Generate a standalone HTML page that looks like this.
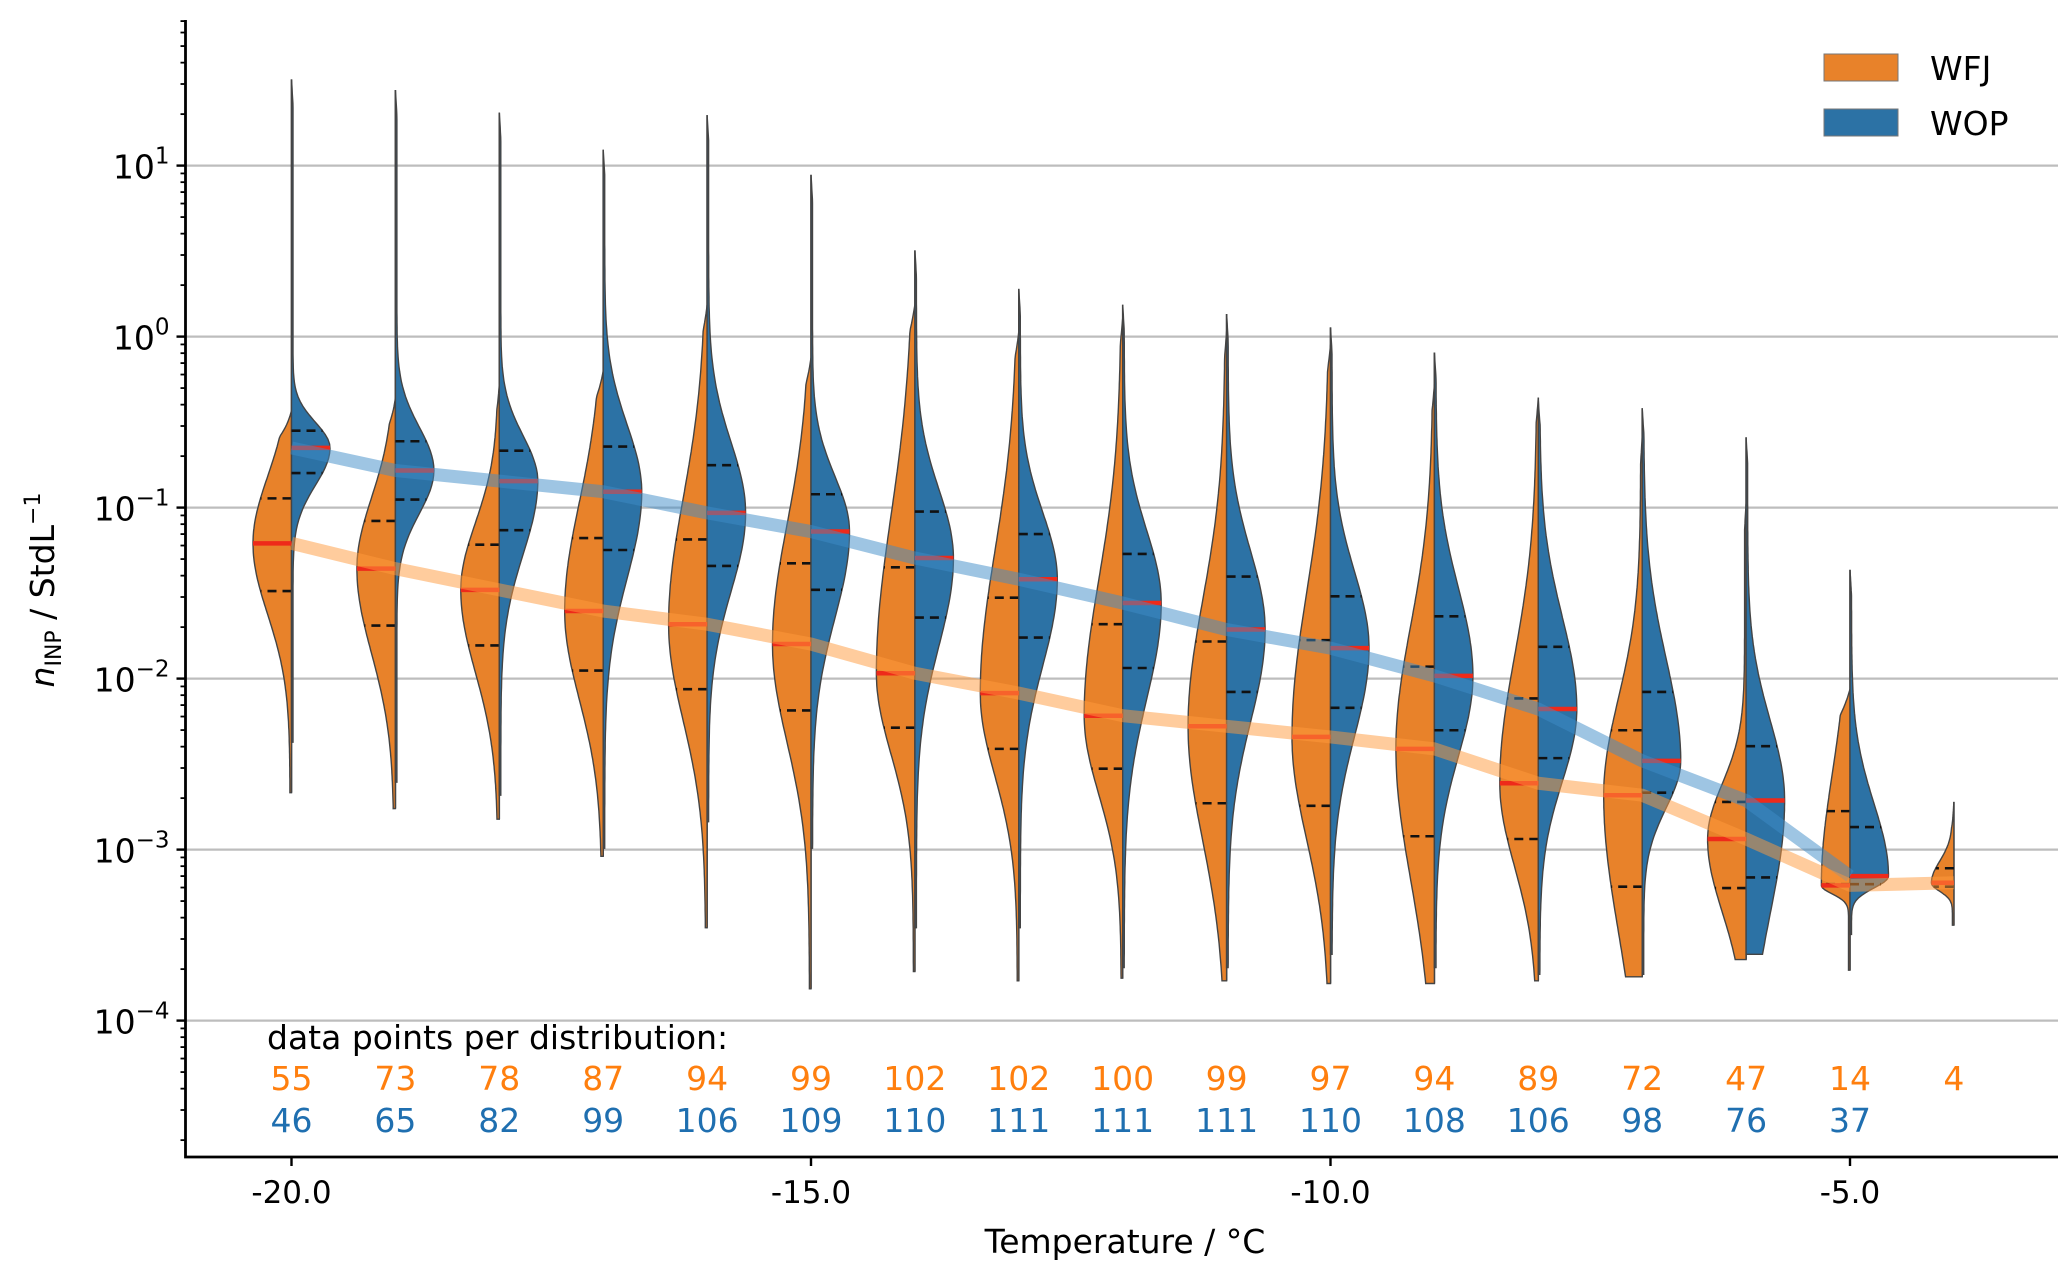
<!DOCTYPE html>
<html><head><meta charset="utf-8"><style>
html,body{margin:0;padding:0;background:#fff;}
svg{display:block;font-family:"DejaVu Sans","Liberation Sans",sans-serif;}
</style></head><body>
<svg id="chart" width="2067" height="1281" viewBox="0 0 2067 1281" xmlns="http://www.w3.org/2000/svg">
<rect x="0" y="0" width="2067" height="1281" fill="#fff"/>
<g id="grid"></g>
<g id="violins"></g>
<g id="lines"></g>
<g id="axes"></g>
<g id="legend">
<rect x="1824" y="54" width="74" height="27" fill="#e8822a" stroke="#777" stroke-width="1"/>
<text x="1930" y="80" font-size="33">WFJ</text>
<rect x="1824" y="109" width="74" height="27" fill="#2c72a5" stroke="#777" stroke-width="1"/>
<text x="1930" y="135" font-size="33">WOP</text>
</g>
</svg>
<script>
const temps = [-20,-19,-18,-17,-16,-15,-14,-13,-12,-11,-10,-9,-8,-7,-6,-5,-4];
const wfjCount = [55,73,78,87,94,99,102,102,100,99,97,94,89,72,47,14,4];
const wopCount = [46,65,82,99,106,109,110,111,111,111,110,108,106,98,76,37];
// log10 values
const wfjMedian = [-1.209,-1.357,-1.481,-1.605,-1.682,-1.798,-1.969,-2.085,-2.217,-2.279,-2.341,-2.411,-2.612,-2.682,-2.938,-3.209,-3.194];
const wfjQ3 = [-0.946,-1.078,-1.217,-1.178,-1.186,-1.326,-1.349,-1.527,-1.682,-1.783,-1.775,-1.930,-2.116,-2.302,-2.721,-2.775,-3.109];
const wfjQ1 = [-1.488,-1.690,-1.806,-1.953,-2.062,-2.186,-2.287,-2.411,-2.527,-2.729,-2.744,-2.922,-2.938,-3.217,-3.225,-3.202,-3.217];
const wfjMax = [-0.434,-0.357,-0.279,-0.202,0.186,-0.124,0.186,0.031,0.109,0.031,-0.047,-0.279,-0.357,-0.589,-0.977,-2.062,-2.721];
const wfjMin = [-2.667,-2.760,-2.822,-3.039,-3.457,-3.814,-3.713,-3.767,-3.752,-3.767,-3.783,-3.783,-3.767,-3.744,-3.643,-3.705,-3.442];
const wopMedian = [-0.651,-0.783,-0.845,-0.907,-1.031,-1.140,-1.295,-1.419,-1.558,-1.713,-1.822,-1.984,-2.178,-2.481,-2.713,-3.155];
const wopQ3 = [-0.550,-0.612,-0.667,-0.643,-0.752,-0.922,-1.023,-1.155,-1.271,-1.403,-1.519,-1.636,-1.814,-2.078,-2.395,-2.868];
const wopQ1 = [-0.798,-0.953,-1.132,-1.248,-1.341,-1.481,-1.643,-1.760,-1.938,-2.078,-2.171,-2.302,-2.465,-2.667,-3.163,-3.202];
const wopMax = [1.504,1.442,1.310,1.093,1.295,0.946,0.504,0.279,0.186,0.132,0.054,-0.093,-0.372,-0.419,-0.589,-1.364];
const wopMin = [-2.372,-2.605,-2.682,-2.992,-2.837,-2.992,-3.457,-3.457,-3.690,-3.690,-3.612,-3.690,-3.729,-3.729,-3.612,-3.496];
const xTicks = [-20,-15,-10,-5];
const xTickLabels = ["-20.0","-15.0","-10.0","-5.0"];
const yDecades = [1,0,-1,-2,-3,-4];

const NS="http://www.w3.org/2000/svg";
function X(t){return 291.5+(t+20)*103.9;}
function Y(l){return 165.6+(1-l)*171;}
const L=185.5,R=2058,T=20,B=1157;
function mk(tag,attrs,parent){const e=document.createElementNS(NS,tag);for(const k in attrs)e.setAttribute(k,attrs[k]);parent.appendChild(e);return e;}
const grid=document.getElementById('grid'),axes=document.getElementById('axes'),vg=document.getElementById('violins'),lg=document.getElementById('lines');

yDecades.forEach(d=>{
  const g=mk('line',{x1:L,x2:R,y1:Y(d),y2:Y(d),stroke:'#bdbdbd','stroke-width':2.2},grid);
  
  
});

function trend(meds,color,name){
  const pts=meds.map((m,i)=>X(temps[i])+','+Y(m)).join(' ');
  const p=mk('polyline',{points:pts,fill:'none',stroke:color,'stroke-width':13,'stroke-opacity':0.5,'stroke-linejoin':'round'},lg);
  
  
}

const medianMarks=[];
function half(i,side,med,q1,q3,lo,hi,n,fill,name){
  const cx=X(temps[i]);
  const W=37*Math.min(1,0.5+n/60);
  const su=Math.max((q3-med)/0.674,0.05), sl=Math.max((med-q1)/0.674,0.05);
  function wAt(l){const z=l>=med?(l-med)/su:(med-l)/sl;return W*Math.exp(-0.5*z*z)+1.5;}
  const pts=[];const N=140;
  for(let k=0;k<=N;k++){
    const l=hi-(hi-lo)*k/N;
    let w=wAt(l);
    const dt=hi-l;
    if(dt<0.15) w*=Math.max(dt/0.15,0);
    pts.push([cx+side*w,Y(l)]);
  }
  let d='M'+cx+','+Y(hi)+' '+pts.map(p=>'L'+p[0].toFixed(1)+','+p[1].toFixed(1)).join(' ')+' L'+cx+','+Y(lo)+' Z';
  const p=mk('path',{d:d,fill:fill,stroke:'#444','stroke-width':1.4},vg);
  
  
  [q1,q3].forEach(q=>{
    const w=wAt(q);
    const ql=mk('line',{x1:cx,x2:cx+side*w,y1:Y(q),y2:Y(q),stroke:'#111','stroke-width':2.6,'stroke-dasharray':'9,6'},vg);
    
    
  });
  medianMarks.push([cx,cx+side*wAt(med),Y(med)]);
}

temps.forEach((t,i)=>{
  const cx=X(t);
  const top=Math.max(wfjMax[i], i<wopMax.length?wopMax[i]:-99);
  const bot=Math.min(wfjMin[i], i<wopMin.length?wopMin[i]:99);
  const c=mk('line',{x1:cx,x2:cx,y1:Y(top),y2:Y(bot),stroke:'#444','stroke-width':1.6},vg);
  
  
  half(i,-1,wfjMedian[i],wfjQ1[i],wfjQ3[i],wfjMin[i],wfjMax[i],wfjCount[i],'#e8822a','violin-wfj');
  if(i<wopMedian.length) half(i,1,wopMedian[i],wopQ1[i],wopQ3[i],wopMin[i],wopMax[i],wopCount[i],'#2c72a5','violin-wop');
});
medianMarks.forEach(m=>{
  const ml=mk('line',{x1:m[0],x2:m[1],y1:m[2],y2:m[2],stroke:'#ee2a1a','stroke-width':4.5},vg);
  
  
});
trend(wopMedian,'#3d8cc8','median-trend-wop');
trend(wfjMedian,'#ff9a3c','median-trend-wfj');

const ax=mk('path',{d:`M${L},${T} L${L},${B} L${R},${B}`,fill:'none',stroke:'#000','stroke-width':2.8},axes);


for(let d=-5; d<=1; d++){
  for(let m=1;m<=9;m++){
    const l=d+Math.log10(m);const y=Y(l);
    if(y<T||y>B) continue;
    const tk=mk('line',{x1:L-(m===1?9:5),x2:L,y1:y,y2:y,stroke:'#000','stroke-width':m===1?2.4:1.8},axes);
    
    
  }
}
yDecades.forEach(d=>{
  const t=mk('text',{x:L-16,y:Y(d)+13,'text-anchor':'end','font-size':33},axes);
  
  
  t.innerHTML='10<tspan dy="-15" font-size="23">'+(d<0?'\u2212'+(-d):d)+'</tspan>';
});
xTicks.forEach((v,i)=>{
  const tk=mk('line',{x1:X(v),x2:X(v),y1:B,y2:B+9,stroke:'#000','stroke-width':2.4},axes);
  
  
  const t=mk('text',{x:X(v),y:B+46,'text-anchor':'middle','font-size':31},axes);
  
  
  t.textContent=xTickLabels[i];
});
const xl=mk('text',{x:1125,y:1253,'text-anchor':'middle','font-size':33},axes);


xl.textContent='Temperature / °C';
const yl=mk('text',{x:0,y:0,'text-anchor':'middle','font-size':33,transform:'translate(54,590) rotate(-90)'},axes);


yl.innerHTML='<tspan font-style="italic">n</tspan><tspan dy="7" font-size="22">INP</tspan><tspan dy="-7"> / StdL</tspan><tspan dy="-14" font-size="22">\u22121</tspan>';

const hdr=mk('text',{x:267,y:1049,'font-size':33},axes);


hdr.textContent='data points per distribution:';
wfjCount.forEach((n,i)=>{
  const t=mk('text',{x:X(temps[i]),y:1090,'text-anchor':'middle','font-size':33,fill:'#ff7f0e'},axes);
  
  
  t.textContent=n;
});
wopCount.forEach((n,i)=>{
  const t=mk('text',{x:X(temps[i]),y:1132,'text-anchor':'middle','font-size':33,fill:'#1f6fb0'},axes);
  
  
  t.textContent=n;
});
</script>
</body></html>
